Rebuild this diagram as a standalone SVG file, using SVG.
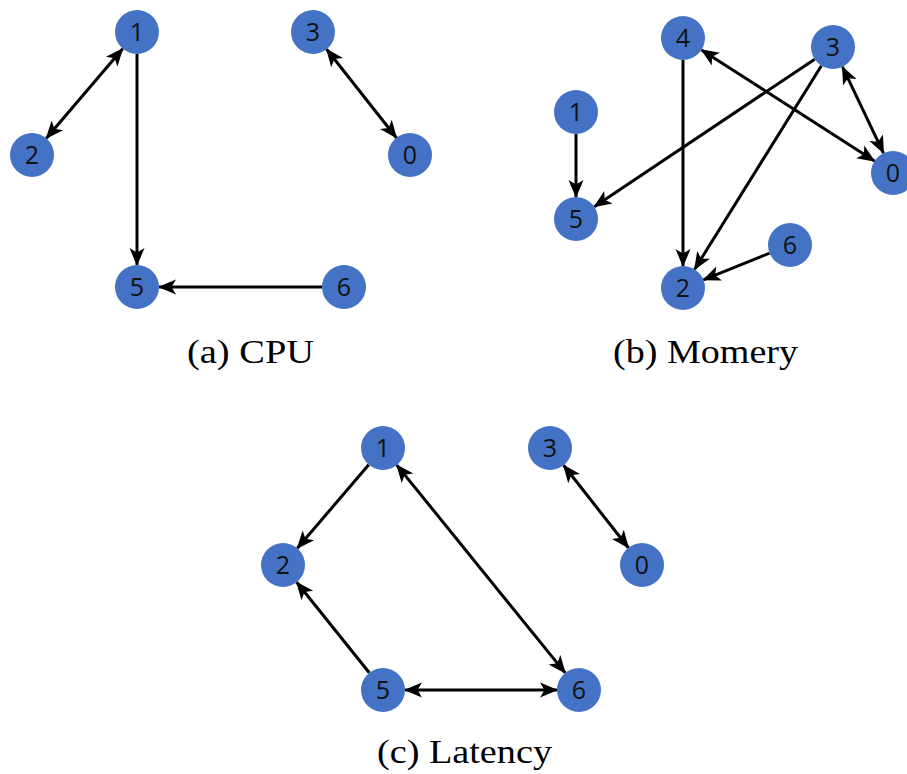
<svg xmlns="http://www.w3.org/2000/svg" width="907" height="774" viewBox="0 0 907 774">
<style>
.n circle{fill:#4472C4}
.n text{font-family:"Open Sans","Liberation Sans",sans-serif;font-size:25px;fill:#111;text-anchor:middle}
.e line{stroke:#000;stroke-width:3;fill:none}
.cap{font-family:"Liberation Serif",serif;font-size:33px;fill:#000}
</style>
<defs>
<marker id="ah" markerUnits="userSpaceOnUse" markerWidth="18" markerHeight="15" refX="17" refY="7.5" orient="auto-start-reverse" overflow="visible">
<path d="M0,0 L18,7.5 L0,15 L4.5,7.5 z" fill="#000"/>
</marker>
</defs>
<rect width="907" height="774" fill="#fff"/>
<g id="connectors" class="e">
<!-- (a) -->
<line x1="122.7" y1="48.7" x2="46.3" y2="138.3" marker-start="url(#ah)" marker-end="url(#ah)"/>
<line x1="137" y1="54" x2="137" y2="265" marker-end="url(#ah)"/>
<line x1="322" y1="287" x2="159" y2="287" marker-end="url(#ah)"/>
<line x1="326.6" y1="49.3" x2="396.4" y2="137.7" marker-start="url(#ah)" marker-end="url(#ah)"/>
<!-- (b) -->
<line x1="576" y1="134" x2="576" y2="197" marker-end="url(#ah)"/>
<line x1="683" y1="60" x2="683" y2="266" marker-end="url(#ah)"/>
<line x1="814.7" y1="59.2" x2="594.3" y2="206.8" marker-end="url(#ah)"/>
<line x1="821.4" y1="65.7" x2="694.6" y2="269.3" marker-end="url(#ah)"/>
<line x1="701.5" y1="49.9" x2="874.5" y2="161.1" marker-start="url(#ah)" marker-end="url(#ah)"/>
<line x1="842.5" y1="66.9" x2="883.5" y2="153.1" marker-start="url(#ah)" marker-end="url(#ah)"/>
<line x1="769.6" y1="253.2" x2="703.4" y2="279.8" marker-end="url(#ah)"/>
<!-- (c) -->
<line x1="368.7" y1="464.7" x2="297.3" y2="548.3" marker-end="url(#ah)"/>
<line x1="369.3" y1="672.8" x2="296.7" y2="582.2" marker-end="url(#ah)"/>
<line x1="396.8" y1="465.1" x2="565.2" y2="672.9" marker-start="url(#ah)" marker-end="url(#ah)"/>
<line x1="405" y1="690" x2="557" y2="690" marker-start="url(#ah)" marker-end="url(#ah)"/>
<line x1="563.6" y1="465.3" x2="628.4" y2="547.7" marker-start="url(#ah)" marker-end="url(#ah)"/>
</g>
<!-- (a) CPU -->
<g id="a1" class="n"><circle cx="137" cy="32" r="22"/><text x="137" y="41">1</text></g>
<g id="a3" class="n"><circle cx="313" cy="32" r="22"/><text x="313" y="41">3</text></g>
<g id="a2" class="n"><circle cx="32" cy="155" r="22"/><text x="32" y="164">2</text></g>
<g id="a0" class="n"><circle cx="410" cy="155" r="22"/><text x="410" y="164">0</text></g>
<g id="a5" class="n"><circle cx="137" cy="287" r="22"/><text x="137" y="296">5</text></g>
<g id="a6" class="n"><circle cx="344" cy="287" r="22"/><text x="344" y="296">6</text></g>
<!-- (b) Momery -->
<g id="b4" class="n"><circle cx="683" cy="38" r="22"/><text x="683" y="47">4</text></g>
<g id="b3" class="n"><circle cx="833" cy="47" r="22"/><text x="833" y="56">3</text></g>
<g id="b1" class="n"><circle cx="576" cy="112" r="22"/><text x="576" y="121">1</text></g>
<g id="b0" class="n"><circle cx="893" cy="173" r="22"/><text x="893" y="182">0</text></g>
<g id="b5" class="n"><circle cx="576" cy="219" r="22"/><text x="576" y="228">5</text></g>
<g id="b6" class="n"><circle cx="790" cy="245" r="22"/><text x="790" y="254">6</text></g>
<g id="b2" class="n"><circle cx="683" cy="288" r="22"/><text x="683" y="297">2</text></g>
<!-- (c) Latency -->
<g id="c1" class="n"><circle cx="383" cy="448" r="22"/><text x="383" y="457">1</text></g>
<g id="c3" class="n"><circle cx="550" cy="448" r="22"/><text x="550" y="457">3</text></g>
<g id="c2" class="n"><circle cx="283" cy="565" r="22"/><text x="283" y="574">2</text></g>
<g id="c0" class="n"><circle cx="642" cy="565" r="22"/><text x="642" y="574">0</text></g>
<g id="c5" class="n"><circle cx="383" cy="690" r="22"/><text x="383" y="699">5</text></g>
<g id="c6" class="n"><circle cx="579" cy="690" r="22"/><text x="579" y="699">6</text></g>
<text class="cap" x="187" y="363" textLength="127" lengthAdjust="spacingAndGlyphs">(a) CPU</text>
<text class="cap" x="613" y="363" textLength="185" lengthAdjust="spacingAndGlyphs">(b) Momery</text>
<text class="cap" x="377" y="763" textLength="175" lengthAdjust="spacingAndGlyphs">(c) Latency</text>
</svg>
